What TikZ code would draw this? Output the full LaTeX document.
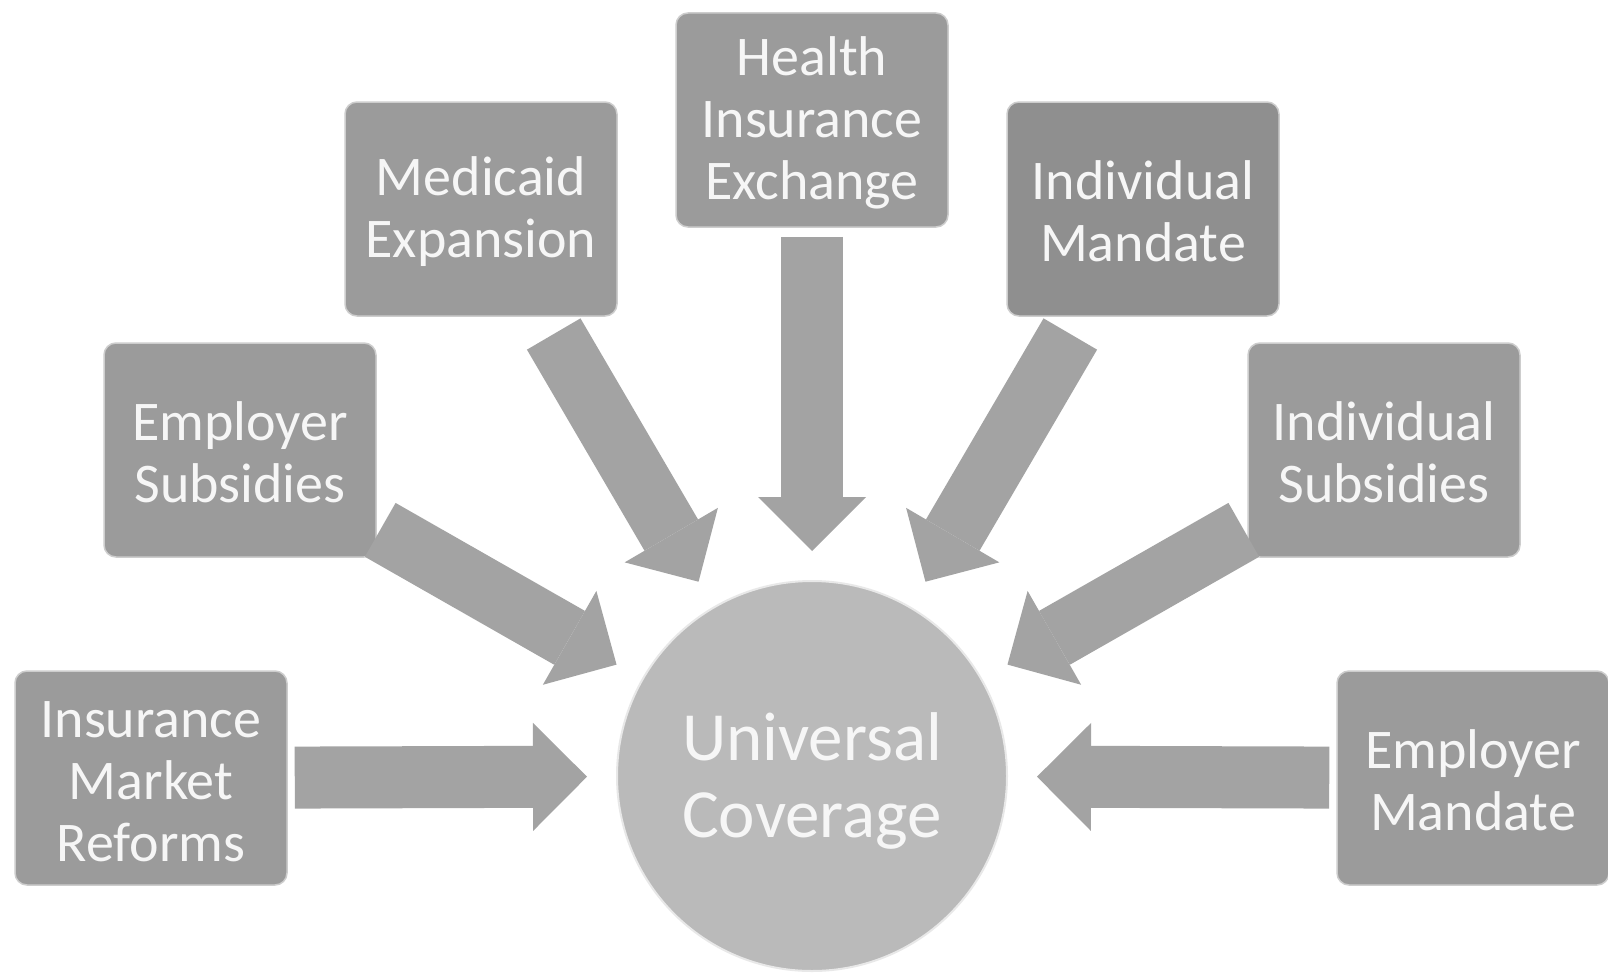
\documentclass[tikz,border=0pt]{standalone}
\usepackage{fontspec}
\setmainfont{Carlito}
\usetikzlibrary{arrows.meta}
\definecolor{boxGrey}{HTML}{9B9B9B}
\definecolor{boxDarkGrey}{HTML}{8F8F8F}
\definecolor{edgeGrey}{HTML}{CDCDCD}
\definecolor{arrowGrey}{HTML}{A3A3A3}
\definecolor{hubGrey}{HTML}{BABABA}
\definecolor{hubEdge}{HTML}{E8E8E8}
\definecolor{textWhite}{HTML}{F6F6F6}

\begin{document}
\begin{tikzpicture}[x=1pt, y=-1pt,
    part/.style={draw=edgeGrey, line width=1.5pt, rounded corners=12pt,
          fill=boxGrey, text=textWhite, inner sep=0pt,
          minimum width=272pt, minimum height=214pt, align=center,
          font=\fontsize{56}{62}\selectfont},
    hub/.style={circle, draw=hubEdge, line width=2pt, fill=hubGrey,
          text=textWhite, inner sep=0pt, minimum size=390pt, align=center,
          font=\fontsize{69}{77}\selectfont},
    feed/.style={draw=arrowGrey, line width=62pt, shorten <=7pt, shorten >=29pt,
          -{Triangle[length=54pt, width=108pt, line width=0pt]}}]
    \useasboundingbox[fill=white] (0,0) rectangle (1608,974);

    \node[hub] (uc) at (812,776) {\rule{0pt}{58pt}Universal\\Coverage};

    \node[part] (imr) at (151,778) {\rule{0pt}{44pt}Insurance\\Market\\Reforms};
    \node[part] (es)  at (240,450) {\rule{0pt}{44pt}Employer\\Subsidies};
    \node[part] (med) at (481,209) {\rule{0pt}{44pt}Medicaid\\Expansion};
    \node[part] (hie) at (812,120) {\rule{0pt}{44pt}Health\\Insurance\\Exchange};
    \node[part, fill=boxDarkGrey] (im) at (1143,209) {\rule{0pt}{44pt}Individual\\Mandate};
    \node[part] (is)  at (1384,450) {\rule{0pt}{44pt}Individual\\Subsidies};
    \node[part] (em)  at (1473,778) {\rule{0pt}{44pt}Employer\\Mandate};

    \draw[feed] (imr) -- (uc);
    \draw[feed, shorten <=4pt] (es) -- (uc);
    \draw[feed, shorten <=20pt] (med) -- (uc);
    \draw[feed, shorten <=9pt] (hie) -- (uc);
    \draw[feed, shorten <=20pt] (im) -- (uc);
    \draw[feed, shorten <=4pt] (is) -- (uc);
    \draw[feed] (em) -- (uc);
\end{tikzpicture}
\end{document}
